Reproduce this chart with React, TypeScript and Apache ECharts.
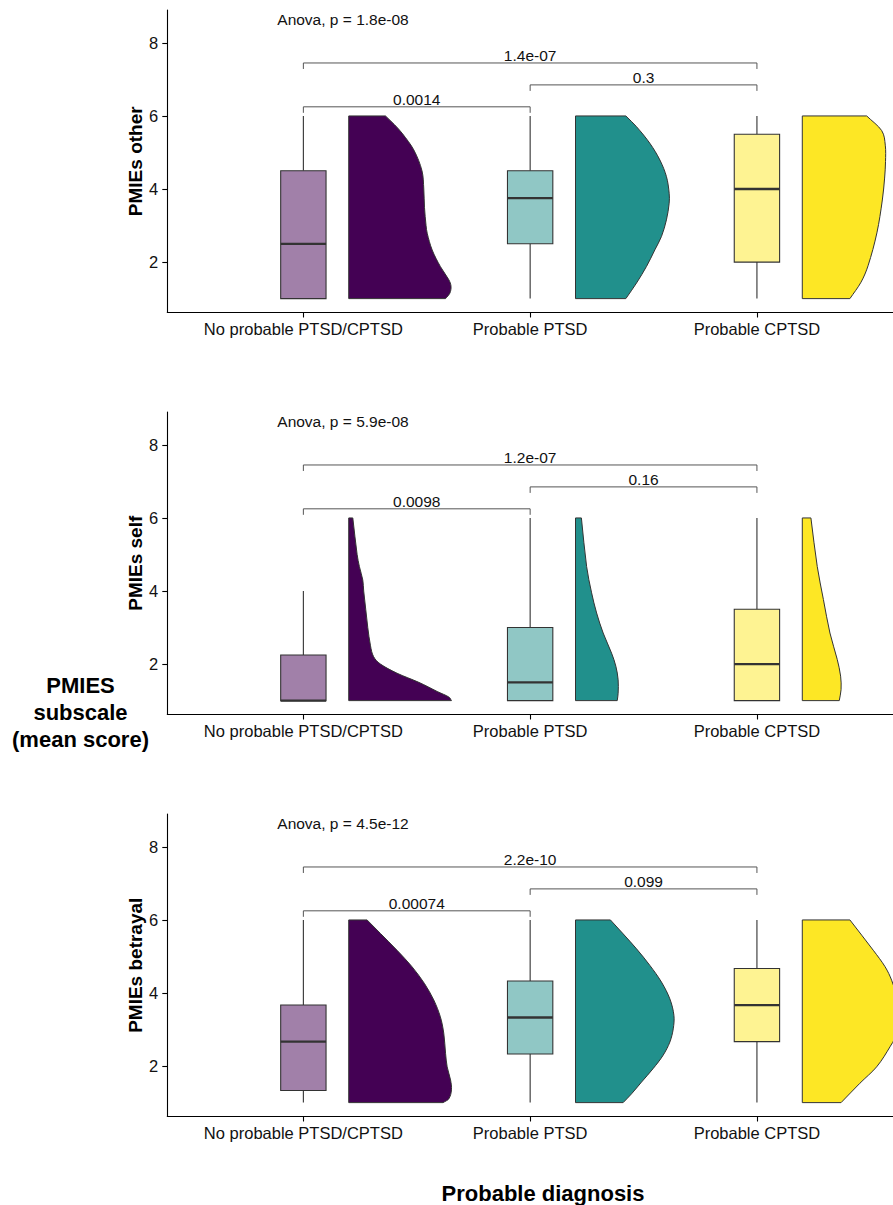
import React, { useEffect, useRef } from 'react';
import * as echarts from 'echarts';

const FONT = "'Liberation Sans', Arial, Helvetica, sans-serif";

const categories = ['No probable PTSD/CPTSD', 'Probable PTSD', 'Probable CPTSD'];
const panelNames = ['PMIEs other', 'PMIEs self', 'PMIEs betrayal'];
const anovaLabels = ['Anova, p = 1.8e-08', 'Anova, p = 5.9e-08', 'Anova, p = 4.5e-12'];
const yTicks = [2, 4, 6, 8];
const xTicks = [1, 2, 3];

// box stats: [lower whisker, Q1, median, Q3, upper whisker] per group
const boxOther = [[1, 1, 2.5, 4.5, 6], [1, 2.5, 3.75, 4.5, 6], [1, 2, 4, 5.5, 6]];
const boxSelf = [[1, 1, 1, 2.25, 4], [1, 1, 1.5, 3, 6], [1, 1, 2, 3.5, 6]];
const boxBetrayal = [[1, 1.33, 2.67, 3.67, 6], [1, 2.33, 3.33, 4.33, 6], [1, 2.67, 3.67, 4.67, 6]];

// half-violin profiles: score levels and density half-widths (x units)
const violinOtherY = [
  [1, 1.15, 1.34, 1.52, 1.88, 2.33, 2.79, 3.0, 3.5, 4.0, 4.5, 5.07, 5.53, 5.76, 6],
  [1, 1.426, 1.88, 2.336, 2.7, 3.156, 3.61, 3.885, 4.34, 4.795, 5.25, 5.706, 6],
  [1, 1.45, 1.9, 2.8, 3.7, 4.3, 4.75, 5.2, 5.6, 6],
];
const violinOtherW = [
  [0.427, 0.446, 0.451, 0.441, 0.404, 0.368, 0.346, 0.341, 0.334, 0.331, 0.323, 0.287, 0.235, 0.202, 0.162],
  [0.222, 0.269, 0.313, 0.35, 0.379, 0.401, 0.413, 0.413, 0.401, 0.372, 0.328, 0.269, 0.222],
  [0.21, 0.259, 0.29, 0.329, 0.353, 0.363, 0.367, 0.366, 0.35, 0.284],
];
const violinSelfY = [
  [1, 1.1, 1.25, 1.5, 1.75, 2, 2.2, 2.5, 3, 3.5, 4, 4.3, 4.67, 5, 6],
  [1, 1.2, 1.57, 1.94, 2.3, 2.85, 3.4, 3.95, 4.67, 6],
  [1, 1.3, 1.67, 2.13, 2.85, 3.77, 4.67, 6],
];
const violinSelfW = [
  [0.453, 0.441, 0.39, 0.309, 0.213, 0.14, 0.11, 0.096, 0.084, 0.075, 0.066, 0.062, 0.047, 0.037, 0.018],
  [0.184, 0.188, 0.188, 0.178, 0.159, 0.122, 0.093, 0.071, 0.049, 0.026],
  [0.163, 0.171, 0.169, 0.154, 0.122, 0.093, 0.066, 0.038],
];
const violinBetrayalY = [
  [1, 1.1, 1.35, 1.62, 1.98, 2.35, 2.9, 3.35, 3.81, 4.26, 4.72, 5.17, 5.63, 6],
  [1, 1.24, 1.562, 1.93, 2.293, 2.657, 3.02, 3.387, 3.84, 4.3, 4.755, 5.21, 5.62, 6],
  [1, 1.53, 1.98, 2.53, 3.0, 3.35, 3.7, 4.35, 4.72, 5.17, 6],
];
const violinBetrayalW = [
  [0.416, 0.441, 0.453, 0.449, 0.434, 0.427, 0.419, 0.404, 0.375, 0.334, 0.279, 0.213, 0.14, 0.081],
  [0.21, 0.247, 0.291, 0.342, 0.386, 0.416, 0.431, 0.434, 0.416, 0.379, 0.328, 0.269, 0.21, 0.154],
  [0.171, 0.254, 0.328, 0.387, 0.428, 0.437, 0.428, 0.394, 0.365, 0.313, 0.21],
];

// pairwise comparisons
const bracketPairs = [[1, 2], [2, 3], [1, 3]];
const bracketLevels = [6.25, 6.85, 7.45];
const pOther = ['0.0014', '0.3', '1.4e-07'];
const pSelf = ['0.0098', '0.16', '1.2e-07'];
const pBetrayal = ['0.00074', '0.099', '2.2e-10'];

const violinColors = ['#440154', '#21908C', '#FDE725'];
const boxColors = ['#A180A9', '#90C7C5', '#FEF392'];

const panels = [
  { box: boxOther, vy: violinOtherY, vw: violinOtherW, p: pOther },
  { box: boxSelf, vy: violinSelfY, vw: violinSelfW, p: pSelf },
  { box: boxBetrayal, vy: violinBetrayalY, vw: violinBetrayalW, p: pBetrayal },
];

// smooth right edge: cubic Hermite in data space (width as a function of score)
function violinPath(api: any, cx: number, ys: number[], ws: number[]) {
  const x0 = cx + 0.2;
  const n = ys.length;
  const m: number[] = [];
  for (let k = 0; k < n; k++) {
    if (k === 0) m.push((ws[1] - ws[0]) / (ys[1] - ys[0]));
    else if (k === n - 1) m.push((ws[n - 1] - ws[n - 2]) / (ys[n - 1] - ys[n - 2]));
    else m.push((ws[k + 1] - ws[k - 1]) / (ys[k + 1] - ys[k - 1]));
  }
  const P = (w: number, y: number) => {
    const c = api.coord([x0 + w, y]);
    return `${c[0].toFixed(2)},${c[1].toFixed(2)}`;
  };
  let d = `M${P(0, ys[0])}L${P(0, ys[n - 1])}L${P(ws[n - 1], ys[n - 1])}`;
  for (let k = n - 1; k >= 1; k--) {
    const h = ys[k - 1] - ys[k];
    const c1 = P(ws[k] + (m[k] * h) / 3, ys[k] + h / 3);
    const c2 = P(ws[k - 1] - (m[k - 1] * h) / 3, ys[k - 1] - h / 3);
    d += `C${c1},${c2},${P(ws[k - 1], ys[k - 1])}`;
  }
  d += 'Z';
  return d;
}

function buildOption() {
  const grid: any[] = [];
  const xAxis: any[] = [];
  const yAxis: any[] = [];
  const series: any[] = [];
  panels.forEach((panel, i) => {
    grid.push({ left: 167.3, width: 725.7, top: 10 + i * 402, height: 302.5 });
    xAxis.push({
      type: 'value', gridIndex: i, min: 0.4, max: 3.6,
      axisLine: { show: true, onZero: false, lineStyle: { color: '#000', width: 1.1 } },
      axisTick: { show: true, customValues: xTicks, length: 5, lineStyle: { color: '#000', width: 1.1 } },
      axisLabel: {
        customValues: xTicks, formatter: (v: number) => categories[Math.round(v) - 1],
        fontSize: 16.5, color: '#111', fontFamily: FONT, margin: 8,
      },
      splitLine: { show: false },
    });
    yAxis.push({
      type: 'value', gridIndex: i, min: 0.62, max: 8.9,
      axisLine: { show: true, onZero: false, lineStyle: { color: '#000', width: 1.1 } },
      axisTick: { show: true, customValues: yTicks, length: 5, lineStyle: { color: '#000', width: 1.1 } },
      axisLabel: { customValues: yTicks, fontSize: 16.5, color: '#111', fontFamily: FONT, margin: 9 },
      splitLine: { show: false },
      name: panelNames[i], nameLocation: 'middle', nameGap: 22, nameRotate: 90, nameMoveOverlap: false,
      nameTextStyle: { fontSize: 19, fontWeight: 'bold', color: '#000', fontFamily: FONT },
    });

    // violins
    series.push({
      type: 'custom', xAxisIndex: i, yAxisIndex: i, clip: true,
      data: xTicks.map((x) => [x, 1]),
      encode: { x: 0, y: 1 },
      renderItem: (params: any, api: any) => {
        const g = params.dataIndex;
        return {
          type: 'path',
          shape: { pathData: violinPath(api, api.value(0), panel.vy[g], panel.vw[g]) },
          style: { fill: violinColors[g], stroke: '#333', lineWidth: 1, lineJoin: 'round' },
        };
      },
    });

    // boxes
    series.push({
      type: 'custom', xAxisIndex: i, yAxisIndex: i, clip: true,
      data: panel.box.map((s, g) => [g + 1, ...s]),
      encode: { x: 0, y: [1, 2, 3, 4, 5] },
      renderItem: (params: any, api: any) => {
        const g = params.dataIndex;
        const x = api.value(0);
        const lo = api.coord([x, api.value(1)]);
        const q1 = api.coord([x, api.value(2)]);
        const med = api.coord([x, api.value(3)]);
        const q3 = api.coord([x, api.value(4)]);
        const hi = api.coord([x, api.value(5)]);
        const bw = api.size([0.2, 0])[0];
        const ls = { stroke: '#333', lineWidth: 1.1 };
        return {
          type: 'group',
          children: [
            { type: 'line', shape: { x1: hi[0], y1: hi[1], x2: q3[0], y2: q3[1] }, style: ls },
            { type: 'line', shape: { x1: q1[0], y1: q1[1], x2: lo[0], y2: lo[1] }, style: ls },
            {
              type: 'rect',
              shape: { x: q3[0] - bw / 2, y: q3[1], width: bw, height: q1[1] - q3[1] },
              style: { fill: boxColors[g], stroke: '#333', lineWidth: 1.1 },
            },
            {
              type: 'line',
              shape: { x1: med[0] - bw / 2, y1: med[1], x2: med[0] + bw / 2, y2: med[1] },
              style: { stroke: '#333', lineWidth: 2.3 },
            },
          ],
        };
      },
    });

    // brackets
    series.push({
      type: 'custom', xAxisIndex: i, yAxisIndex: i, clip: false,
      data: bracketPairs.map((pr, k) => [pr[0], pr[1], bracketLevels[k]]),
      encode: { x: [0, 1], y: 2 },
      renderItem: (params: any, api: any) => {
        const k = params.dataIndex;
        const a = api.coord([api.value(0), api.value(2)]);
        const b = api.coord([api.value(1), api.value(2)]);
        const tip = 6;
        return {
          type: 'group',
          children: [
            {
              type: 'polyline',
              shape: { points: [[a[0], a[1] + tip], a, b, [b[0], b[1] + tip]] },
              style: { stroke: '#555', lineWidth: 1, fill: null },
            },
            {
              type: 'text', x: (a[0] + b[0]) / 2, y: a[1] - 7.7,
              style: {
                text: panel.p[k], fill: '#111', font: `15.5px ${FONT}`,
                align: 'center', verticalAlign: 'middle', textAlign: 'center', textVerticalAlign: 'middle',
              },
            },
          ],
        };
      },
    });

    // anova label
    series.push({
      type: 'custom', xAxisIndex: i, yAxisIndex: i, clip: false,
      data: [[0.885, 8.63]],
      encode: { x: 0, y: 1 },
      renderItem: (params: any, api: any) => {
        const c = api.coord([api.value(0), api.value(1)]);
        return {
          type: 'text', x: c[0], y: c[1],
          style: {
            text: anovaLabels[i], fill: '#111', font: `15.5px ${FONT}`,
            align: 'left', verticalAlign: 'middle', textAlign: 'left', textVerticalAlign: 'middle',
          },
        };
      },
    });
  });

  return {
    animation: false,
    backgroundColor: '#fff',
    grid, xAxis, yAxis, series,
    graphic: [
      {
        type: 'text', x: 80.5, y: 712.5,
        style: {
          text: 'PMIES\nsubscale\n(mean score)', fill: '#000', font: `bold 22px ${FONT}`, lineHeight: 27,
          align: 'center', verticalAlign: 'middle', textAlign: 'center', textVerticalAlign: 'middle',
        },
      },
      {
        type: 'text', x: 543, y: 1193,
        style: {
          text: 'Probable diagnosis', fill: '#000', font: `bold 22px ${FONT}`,
          align: 'center', verticalAlign: 'middle', textAlign: 'center', textVerticalAlign: 'middle',
        },
      },
    ],
  };
}

export default function App() {
  const ref = useRef<HTMLDivElement>(null);
  useEffect(() => {
    if (!ref.current) return;
    const chart = echarts.init(ref.current, undefined, { renderer: 'svg' });
    chart.setOption(buildOption() as any);
    return () => chart.dispose();
  }, []);
  return (
    <div
      ref={ref}
      style={{ position: 'absolute', left: 0, top: 0, width: 893, height: 1205, background: '#fff' }}
    />
  );
}
